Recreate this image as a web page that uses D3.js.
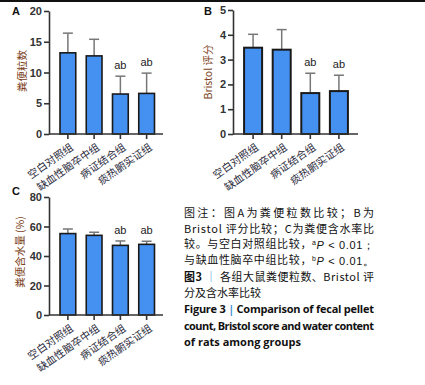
<!DOCTYPE html>
<html><head><meta charset="utf-8">
<script src="https://cdn.jsdelivr.net/npm/d3@7"></script>
<style>body{margin:0;background:#fff}svg{display:block}</style>
</head><body>
<script>
const categories = ["空白对照组","缺血性脑卒中组","病证结合组","痰热腑实证组"];
const pelletMean = [13.2, 12.7, 6.5, 6.6];
const pelletErr  = [16.4, 15.4, 9.4, 9.9];
const bristolMean = [3.48, 3.40, 1.65, 1.73];
const bristolErr  = [4.02, 4.21, 2.45, 2.37];
const waterMean = [55.2, 54.0, 47.2, 47.9];
const waterErr  = [58.3, 56.1, 50.2, 50.0];
const sigLabels = ["", "", "ab", "ab"];
const pelletTicks = [0,5,10,15,20];
const bristolTicks = [0,1,2,3,4,5];
const waterTicks = [0,20,40,60,80];
const captionLines = [
  "图注：图A为粪便粒数比较；B为",
  "Bristol 评分比较；C为粪便含水率比",
  "较。与空白对照组比较，aP < 0.01；",
  "与缺血性脑卒中组比较，bP < 0.01。",
  "图3 ｜ 各组大鼠粪便粒数、Bristol 评",
  "分及含水率比较",
  "Figure 3  |  Comparison of fecal pellet",
  "count, Bristol score and water content",
  "of rats among groups"
];

const W = 425, H = 385;
const svg = d3.select("body").append("svg").attr("width", W).attr("height", H);
svg.append("rect").attr("x",0).attr("y",0).attr("width",W).attr("height",2).attr("fill","#111");

const barColor = "#4591f2";
const axisColor = "#333";
const labelColor = "#7b3f20";
const cjk = "'Noto Sans CJK SC', sans-serif";
const num = "'Liberation Sans', Arial, sans-serif";

function panel(o){
  const g = svg.append("g");
  const y = d3.scaleLinear().domain([0, o.max]).range([o.y0, o.y1]);
  const x = d3.scaleBand().domain(categories).range([o.x0 + 0.5, o.xr]).paddingInner(o.pad).paddingOuter(o.pad);
  categories.forEach((c,i)=>{
    const cx = x(c) + x.bandwidth()/2;
    g.append("line").attr("x1",cx).attr("x2",cx).attr("y1",y(o.mean[i])).attr("y2",y(o.err[i]))
      .attr("stroke","#777").attr("stroke-width",1.5);
    g.append("line").attr("x1",cx-5).attr("x2",cx+5).attr("y1",y(o.err[i])).attr("y2",y(o.err[i]))
      .attr("stroke","#777").attr("stroke-width",1.5);
  });
  g.selectAll("rect.bar").data(categories).enter().append("rect")
    .attr("x", c=>x(c)).attr("width", x.bandwidth())
    .attr("y", (c,i)=>y(o.mean[i])).attr("height",(c,i)=>y(0)-y(o.mean[i]))
    .attr("fill", barColor).attr("stroke","#1a1a1a").attr("stroke-width",o.sw);
  categories.forEach((c,i)=>{
    if(!sigLabels[i]) return;
    g.append("text").attr("x", x(c)+x.bandwidth()/2).attr("y", y(o.err[i]) - 7)
      .attr("text-anchor","middle").attr("font-family",num).attr("font-size",11).attr("fill","#222")
      .text(sigLabels[i]);
  });
  const ya = g.append("g").attr("transform",`translate(${o.x0},0)`)
    .call(d3.axisLeft(y).tickValues(o.ticks).tickFormat(d3.format("d")).tickSize(5).tickPadding(2).tickSizeOuter(0));
  ya.select(".domain").attr("stroke",axisColor).attr("stroke-width",1.6);
  ya.selectAll(".tick line").attr("stroke",axisColor).attr("stroke-width",1.6);
  ya.selectAll(".tick text").attr("font-family",num).attr("font-size",11).attr("font-weight","bold").attr("fill","#333");
  g.append("line").attr("x1",o.x0).attr("x2",o.xe).attr("y1",y(0)).attr("y2",y(0))
    .attr("stroke",axisColor).attr("stroke-width",1.6);
  categories.forEach((c,i)=>{
    const cx = x(c)+x.bandwidth()/2;
    g.append("line").attr("x1",cx).attr("x2",cx).attr("y1",y(0)).attr("y2",y(0)+5)
      .attr("stroke",axisColor).attr("stroke-width",1.6);
    g.append("text").attr("transform",`translate(${cx+2},${y(0)+9}) rotate(-35)`)
      .attr("text-anchor","end").attr("dy","0.7em").attr("font-family",cjk).attr("font-size",10.5).attr("fill","#2a2a3a")
      .text(c);
  });
  g.append("text").attr("transform",`translate(${o.lx},${o.ly}) rotate(-90)`)
    .attr("text-anchor","middle").attr("dy","0.35em").attr("font-family",cjk).attr("font-size",10.5).attr("fill",labelColor)
    .text(o.label);
  g.append("text").attr("x",o.px).attr("y",o.py).attr("dy","0.35em").attr("font-family",num).attr("font-weight","bold")
    .attr("font-size",11).attr("fill","#111").text(o.letter);
}

panel({max:20, y0:134, y1:11, x0:49, xr:165, xe:163, pad:0.4, mean:pelletMean, err:pelletErr, ticks:pelletTicks,
  label:"粪便粒数", lx:22, ly:71, letter:"A", px:12, py:11, sw:1.6});
panel({max:5, y0:134, y1:10, x0:233, xr:358.5, xe:358, pad:0.37, mean:bristolMean, err:bristolErr, ticks:bristolTicks,
  label:"Bristol 评分", lx:208, ly:72, letter:"B", px:204, py:11, sw:2});
panel({max:80, y0:315, y1:197, x0:49, xr:165, xe:163, pad:0.4, mean:waterMean, err:waterErr, ticks:waterTicks,
  label:"粪便含水量 (%)", lx:20, ly:252, letter:"C", px:12, py:191, sw:1.6});

const capY = [213,229,244,260,277,293,309,326,342];
const capW = [190,190,190,190,190,0,190,190,0];
captionLines.forEach((t,i)=>{
  const tx = svg.append("text").attr("x",184).attr("y",capY[i]).attr("dy","0.35em")
    .attr("font-family", i>=6 ? "'Open Sans', sans-serif" : cjk)
    .attr("font-size", 11).attr("fill","#111")
    .attr("font-weight", (i>=6) ? "bold" : "normal");
  if(capW[i]) tx.attr("textLength",capW[i]).attr("lengthAdjust","spacing");
  if(i===2 || i===3){
    const parts = i===2 ? ["较。与空白对照组比较，","a","P"," < 0.01；"] : ["与缺血性脑卒中组比较，","b","P"," < 0.01。"];
    tx.append("tspan").text(parts[0]);
    tx.append("tspan").attr("font-size",7).attr("dy","-0.4em").attr("font-family",num).text(parts[1]);
    tx.append("tspan").attr("dy","0.4em").attr("font-style","italic").attr("font-family",num).text(parts[2]);
    tx.append("tspan").attr("font-family",num).text(parts[3]);
  } else if(i===4){
    tx.append("tspan").attr("font-weight","bold").text("图3 ");
    tx.append("tspan").attr("fill","#3a8fd0").text("｜");
    tx.append("tspan").text(" 各组大鼠粪便粒数、Bristol 评");
  } else if(i===6){
    tx.append("tspan").text("Figure 3 ");
    tx.append("tspan").attr("fill","#3a8fd0").text(" | ");
    tx.append("tspan").text(" Comparison of fecal pellet");
  } else {
    tx.text(t);
  }
});
</script>
</body></html>
